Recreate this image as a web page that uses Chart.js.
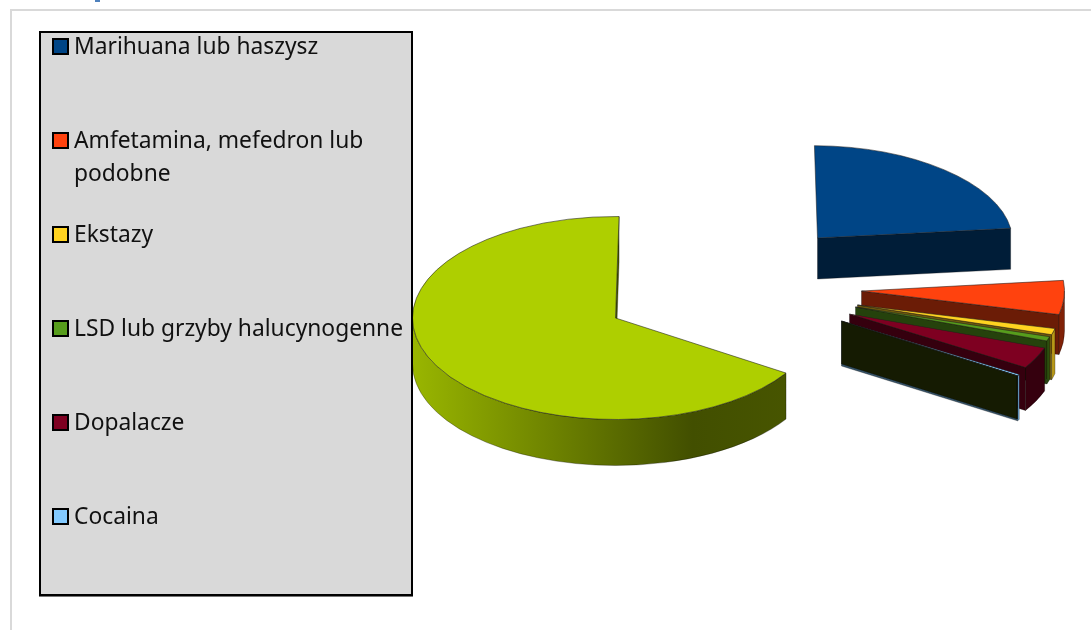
<!DOCTYPE html>
<html><head><meta charset="utf-8">
<script src="https://cdn.jsdelivr.net/npm/chart.js@4"></script>
<style>
html,body{margin:0;padding:0;background:#fff;width:1091px;height:630px;overflow:hidden;position:relative}
#frame{position:absolute;left:10px;top:8.5px;width:1100px;height:700px;border:2px solid #d9d9d9;box-sizing:border-box}
#frag{position:absolute;left:95px;top:0;width:5px;height:2px;background:#4f81bd}
canvas{position:absolute;left:0;top:0}
#legend{position:absolute;left:39px;top:31px;width:374px;height:565px;box-sizing:border-box;border:2px solid #000;background:#d9d9d9;box-shadow:0 1px 0 #777}
.row{position:absolute;left:33px;width:336px;font:22.8px/33px "Noto Sans",sans-serif;color:#111;white-space:pre-line}
.sw{position:absolute;left:11px;width:17px;height:17px;box-sizing:border-box;border:2px solid #000}
</style></head><body>
<div id="frame"></div><div id="frag"></div>
<canvas id="c" width="1091" height="630"></canvas>
<div id="legend"></div>
<script>
// Data (percent shares)
const categories = ["Marihuana lub haszysz","Amfetamina, mefedron lub podobne","Ekstazy","LSD lub grzyby halucynogenne","Dopalacze","Cocaina","",""];
const values = [23.05,5.4,1.0,0.7,3.4,0.25,0.05,66.15];
const colors = ["#004586","#ff420e","#ffd320","#579d1c","#7e0021","#83caff","#314004","#aecf00"];

// 3D presentation of the exploded pie (offset of each slice's apex from the pie centre, px)
const explodeX = [202,246,242,240,234,226,226,0];
const explodeY = [-79,-26,-12,-10,-3,4,4,1];
const scaleX = [0.96,1,1,1,1.02,1.03,1.03,1];
const scaleY = [0.91,1,1,1,1,1,1,1];
const skewX = [0.07,0,0,0,0,0,0,0];
const depths = [41,40,45,43,43,45,43,46];
const rimShade = [0.42,0.5,0.72,0.5,0.42,0.78,0.42,null];
const legendTops = [0,94,188,282,376,470];
const FLATTEN = 0.5;
const CUT_SHADE = 0.42;
const RADIUS = 203;

function shade(hex,f){
  const n=parseInt(hex.slice(1),16);
  return `rgb(${Math.round((n>>16&255)*f)},${Math.round((n>>8&255)*f)},${Math.round((n&255)*f)})`;
}

const pie3d = {
  id:'pie3d',
  beforeDatasetDraw(chart,args){
    const ctx=chart.ctx, arcs=args.meta.data;
    const order=[arcs.length-1,...arcs.keys()].slice(0,arcs.length);
    order.forEach(i=>{
      const el=arcs[i], x=el.x, y=el.y;
      const cx=x+explodeX[i], cy=y+explodeY[i], d=depths[i];
      const rx=RADIUS*scaleX[i], ry=RADIUS*FLATTEN*scaleY[i];
      const a0=el.startAngle, a1=el.endAngle;
      ctx.save();
      ctx.lineWidth=0.5; ctx.strokeStyle='rgba(0,0,0,.6)';
      // cut face at the trailing edge
      if(Math.cos(a1)>0){
        const tx=cx+rx*Math.cos(a1)+skewX[i]*ry*Math.sin(a1), ty=cy+ry*Math.sin(a1);
        ctx.beginPath();ctx.moveTo(cx,cy);ctx.lineTo(tx,ty);ctx.lineTo(tx,ty+d);ctx.lineTo(cx,cy+d);ctx.closePath();
        ctx.fillStyle=shade(colors[i],CUT_SHADE);ctx.fill();ctx.stroke();
      }
      // outer rim, visible part only
      const r0=Math.max(a0,0), r1=Math.min(a1,Math.PI);
      if(r1>r0){
        ctx.beginPath();
        ctx.ellipse(cx,cy,rx,ry,0,r0,r1);
        ctx.ellipse(cx,cy+d,rx,ry,0,r1,r0,true);
        ctx.closePath();
        if(rimShade[i]===null){
          const g=ctx.createLinearGradient(cx-rx,0,cx+rx,0);
          g.addColorStop(0,shade(colors[i],0.88));
          g.addColorStop(0.69,shade(colors[i],0.38));
          g.addColorStop(1,shade(colors[i],0.42));
          ctx.fillStyle=g;
        } else ctx.fillStyle=shade(colors[i],rimShade[i]);
        ctx.fill();ctx.stroke();
      }
      // top face: the library's own arc element, projected
      ctx.translate(cx,cy);ctx.transform(1,0,skewX[i],1,0,0);ctx.scale(scaleX[i],FLATTEN*scaleY[i]);ctx.translate(-x,-y);
      el.draw(ctx);
      ctx.restore();
    });
    return false;
  }
};

new Chart(document.getElementById('c'),{
  type:'pie',
  data:{labels:categories,datasets:[{data:values,backgroundColor:colors,borderColor:'rgba(30,30,30,.75)',borderWidth:1,radius:RADIUS}]},
  options:{responsive:false,animation:false,events:[],rotation:1,
    layout:{padding:{left:140,top:4}},
    plugins:{legend:{display:false},tooltip:{enabled:false}}},
  plugins:[pie3d]
});

const legend=document.getElementById('legend');
const wrapped={1:"Amfetamina, mefedron lub\npodobne"};
categories.slice(0,6).forEach((t,i)=>{
  const top=legendTops[i];
  const sw=document.createElement('div');sw.className='sw';sw.style.top=(top+5)+'px';sw.style.background=colors[i];
  const r=document.createElement('div');r.className='row';r.style.top=(top-4)+'px';r.textContent=wrapped[i]||t;
  legend.append(sw,r);
});
</script>
</body></html>
